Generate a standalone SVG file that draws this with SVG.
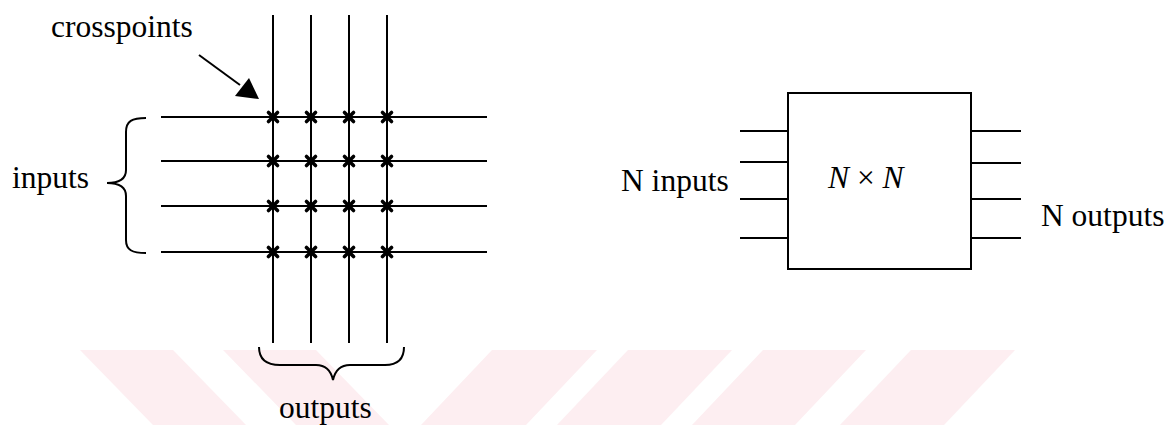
<svg xmlns="http://www.w3.org/2000/svg" width="1169" height="425" viewBox="0 0 1169 425">
<style>
.ln{stroke:#000;stroke-width:2;fill:none}
.br{stroke:#000;stroke-width:2;fill:none}
.xp{stroke:#000;stroke-width:3.6;fill:none;stroke-linecap:round}
.t{font-family:'Liberation Serif','Times New Roman','DejaVu Serif',serif;font-size:31.5px;fill:#000}
.it{font-style:italic}
.wm{fill:#fdeef1}
</style>
<defs>
<path id="xm" d="M-4.5,-4.5 L4.5,4.5 M-4.5,4.5 L4.5,-4.5"/>
</defs>
<g id="watermark">
<polygon class="wm" points="80,350 173,350 246,425 153,425"/>
<polygon class="wm" points="223,350 316,350 389,425 296,425"/>
<polygon class="wm" points="492,350 597,350 526,425 421,425"/>
<polygon class="wm" points="628,350 732,350 661,425 557,425"/>
<polygon class="wm" points="763,350 866,350 795,425 692,425"/>
<polygon class="wm" points="911,350 1015,350 944,425 840,425"/>
</g>
<g id="crossbar">
<g class="ln">
<line x1="273" y1="15" x2="273" y2="343"/>
<line x1="311" y1="15" x2="311" y2="343"/>
<line x1="349" y1="15" x2="349" y2="343"/>
<line x1="387" y1="15" x2="387" y2="343"/>
<line x1="161" y1="117" x2="487" y2="117"/>
<line x1="161" y1="161" x2="487" y2="161"/>
<line x1="161" y1="206" x2="487" y2="206"/>
<line x1="161" y1="252" x2="487" y2="252"/>
</g>
<g class="xp">
<use href="#xm" x="273" y="117"/><use href="#xm" x="311" y="117"/><use href="#xm" x="349" y="117"/><use href="#xm" x="387" y="117"/>
<use href="#xm" x="273" y="161"/><use href="#xm" x="311" y="161"/><use href="#xm" x="349" y="161"/><use href="#xm" x="387" y="161"/>
<use href="#xm" x="273" y="206"/><use href="#xm" x="311" y="206"/><use href="#xm" x="349" y="206"/><use href="#xm" x="387" y="206"/>
<use href="#xm" x="273" y="252"/><use href="#xm" x="311" y="252"/><use href="#xm" x="349" y="252"/><use href="#xm" x="387" y="252"/>
</g>
</g>
<g id="crosspoints-label">
<text class="t" x="51" y="37">crosspoints</text>
</g>
<g id="inputs-label">
<path class="br" d="M146,118 C132,118 126,121 126,132 L126,170 C126,179 119,183 107,183 C119,183 126,187 126,196 L126,240 C126,250 132,253 146,253"/>
<text class="t" x="12" y="188">inputs</text>
</g>
<g id="outputs-label">
<path class="br" d="M259,347 C259,358 265,365 280,365 L316,365 C326,365 331,371 333,380 C335,371 340,365 350,365 L385,365 C399,365 404,358 404,347"/>
<text class="t" x="279" y="418">outputs</text>
</g>
<g id="switch-box">
<rect class="ln" x="788" y="93" width="183" height="176"/>
<g class="ln">
<line x1="740" y1="131" x2="788" y2="131"/>
<line x1="740" y1="162" x2="788" y2="162"/>
<line x1="740" y1="199" x2="788" y2="199"/>
<line x1="740" y1="238" x2="788" y2="238"/>
<line x1="971" y1="131" x2="1021" y2="131"/>
<line x1="971" y1="163" x2="1021" y2="163"/>
<line x1="971" y1="199" x2="1021" y2="199"/>
<line x1="971" y1="238" x2="1021" y2="238"/>
</g>
<text class="t" x="828" y="188"><tspan class="it">N</tspan> × <tspan class="it">N</tspan></text>
</g>
<g id="n-inputs-label">
<text class="t" x="621" y="191">N inputs</text>
</g>
<g id="n-outputs-label">
<text class="t" x="1041" y="226">N outputs</text>
</g>
<g id="connectors">
<line class="ln" x1="199" y1="55" x2="240" y2="85"/>
<polygon points="259,99 235,96 249,78" fill="#000"/>
</g>
</svg>
